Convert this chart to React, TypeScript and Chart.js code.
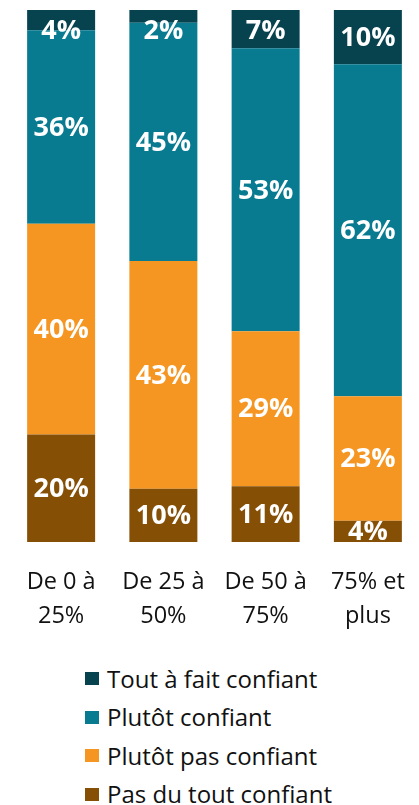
import React, { useEffect, useRef } from "react";
import { Chart, registerables } from "chart.js";

Chart.register(...registerables);

const categories: string[][] = [["De 0 à", "25%"], ["De 25 à", "50%"], ["De 50 à", "75%"], ["75% et", "plus"]];
const seriesNames = ["Pas du tout confiant", "Plutôt pas confiant", "Plutôt confiant", "Tout à fait confiant"];
const pasDuTout = [20.2, 10.0, 10.5, 4.0];
const plutotPas = [39.6, 42.8, 29.1, 23.4];
const plutotConfiant = [36.4, 44.8, 53.2, 62.4];
const toutAFait = [3.8, 2.4, 7.2, 10.2];
const seriesColors = ["#864f06", "#f69622", "#087b91", "#07424f"];
const legendOrder = [3, 2, 1, 0];

const FONT = "'Open Sans', 'DejaVu Sans', sans-serif";

const labelPlugin = {
  id: "segLabels",
  afterDatasetsDraw(chart: any) {
    const ctx = chart.ctx;
    const area = chart.chartArea;
    ctx.save();
    ctx.beginPath();
    ctx.rect(area.left, area.top, area.right - area.left, area.bottom - area.top);
    ctx.clip();
    ctx.fillStyle = "#ffffff";
    ctx.font = `bold 27px ${FONT}`;
    ctx.textAlign = "center";
    ctx.textBaseline = "middle";
    chart.data.datasets.forEach((ds: any, i: number) => {
      const meta = chart.getDatasetMeta(i);
      meta.data.forEach((bar: any, j: number) => {
        const v = ds.data[j];
        const props = bar.getProps(["x", "y", "base"], true);
        let cy = (props.y + props.base) / 2;
        cy = Math.max(cy, area.top + 20);
        ctx.fillText(`${Math.round(v)}%`, props.x, cy + 1);
      });
    });
    ctx.restore();
  },
};

export default function App() {
  const canvasRef = useRef<HTMLCanvasElement>(null);

  useEffect(() => {
    document.body.style.margin = "0";
    const canvas = canvasRef.current;
    if (!canvas) return;
    const chart = new Chart(canvas, {
      type: "bar",
      data: {
        labels: categories,
        datasets: [pasDuTout, plutotPas, plutotConfiant, toutAFait].map((d, i) => ({
          label: seriesNames[i],
          data: d,
          backgroundColor: seriesColors[i],
          borderWidth: 0,
          barPercentage: 0.665,
          categoryPercentage: 1,
        })),
      },
      options: {
        responsive: false,
        animation: false,
        devicePixelRatio: 1,
        layout: { padding: { left: 10, right: 0, top: 10, bottom: 0 } },
        plugins: {
          legend: { display: false },
          tooltip: { enabled: false },
        },
        scales: {
          x: {
            stacked: true,
            grid: { display: false, drawTicks: false },
            border: { display: false },
            afterFit: (s: any) => {
              s.paddingLeft = 0;
              s.paddingRight = 0;
            },
            ticks: {
              padding: 23,
              color: "#111111",
              font: { family: FONT, size: 23.5, lineHeight: 1.447 },
              maxRotation: 0,
              autoSkip: false,
            },
          },
          y: {
            stacked: true,
            display: false,
            min: 0,
            max: 100,
          },
        },
      },
      plugins: [labelPlugin],
    });
    return () => chart.destroy();
  }, []);

  return (
    <div style={{ position: "relative", width: 419, height: 805, background: "#ffffff" }}>
      <canvas ref={canvasRef} width={419} height={656} style={{ display: "block" }} />
      <div style={{ position: "absolute", left: 85, top: 659.5 }}>
        {legendOrder.map((i) => (
          <div key={i} style={{ display: "flex", alignItems: "center", height: 38.5 }}>
            <div style={{ width: 14, height: 13, background: seriesColors[i], marginRight: 8, flex: "none" }} />
            <span style={{ fontFamily: FONT, fontSize: 24, color: "#111111", whiteSpace: "nowrap", lineHeight: "38.5px" }}>
              {seriesNames[i]}
            </span>
          </div>
        ))}
      </div>
    </div>
  );
}
